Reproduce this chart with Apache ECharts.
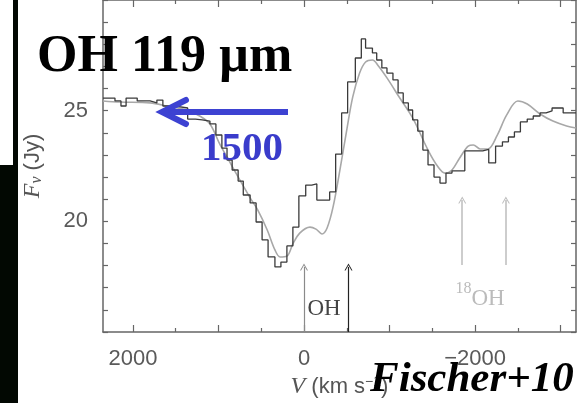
<!DOCTYPE html>
<html>
<head>
<meta charset="utf-8">
<script src="https://cdn.jsdelivr.net/npm/echarts@6.0.0/dist/echarts.min.js"></script>
<style>
html, body { margin: 0; padding: 0; background: #fff; }
#chart { width: 577px; height: 403px; }
</style>
</head>
<body>
<div id="chart"></div>
<script>
// observed spectrum: velocity bin edges (km/s) and flux per bin (Jy)
var histEdges = [2350, 2210, 2140, 2080, 1950, 1800, 1720, 1650, 1500, 1360,
    1270, 1190, 1100, 1030, 960, 900, 840, 770, 710, 630,
    560, 490, 420, 340, 270, 200, 130, 60, -20, -90,
    -150, -300, -370, -440, -510, -600, -670, -720, -800, -850,
    -910, -970, -1040, -1100, -1160, -1220, -1270, -1330, -1390, -1450,
    -1520, -1590, -1660, -1730, -1880, -2090, -2160, -2240, -2320, -2390,
    -2460, -2530, -2610, -2680, -2760, -2830, -2900, -3030, -3180];
var histFlux = [25.57, 25.44, 25.21, 25.57, 25.44, 25.35, 25.48, 25.21, 25.12, 24.62,
    24.58, 24.53, 24.40, 23.90, 23.31, 22.77, 22.32, 21.82, 21.19, 20.83,
    19.97, 19.16, 18.39, 17.94, 18.16, 18.89, 19.74, 21.15, 21.64, 21.69,
    20.96, 21.33, 23.04, 24.90, 26.30, 27.38, 28.24, 27.83, 27.61, 27.29,
    26.93, 26.70, 26.39, 25.80, 25.35, 25.03, 24.58, 24.08, 23.22, 22.55,
    22.00, 21.73, 22.18, 22.28, 23.18, 23.25, 22.64, 23.40, 23.59, 23.81,
    24.04, 24.49, 24.62, 24.76, 24.90, 24.99, 25.12, 24.90];

// model fit (grey curve)
var modelV = [2350, 2150, 1800, 1600, 1370, 1220, 1100, 980, 900, 830,
    630, 540, 430, 340, 280, 200, 130, 50, -70, -140,
    -210, -270, -340, -420, -500, -570, -650, -720, -800, -870,
    -970, -1120, -1270, -1450, -1560, -1650, -1730, -1820, -1920, -1980,
    -2060, -2150, -2260, -2370, -2500, -2610, -2760, -2910, -3070, -3180];
var modelF = [25.44, 25.39, 25.35, 25.21, 25.03, 24.76, 24.40, 23.45, 22.91, 22.41,
    21.06, 20.51, 19.61, 18.71, 18.39, 18.43, 18.98, 19.47, 19.74, 19.65,
    19.43, 19.70, 20.65, 22.32, 24.13, 25.62, 26.70, 27.20, 27.29, 27.02,
    26.48, 25.57, 24.67, 23.22, 22.50, 22.18, 22.32, 22.86, 23.40, 23.45,
    23.27, 23.27, 23.90, 24.81, 25.44, 25.30, 24.85, 24.53, 24.31, 24.22];

// line markers
var ohArrowV = [0, -520];
var o18ArrowV = [-1850, -2360];

// axis ticks and labels
var xMajorTicks = [2000, 1000, 0, -1000, -2000, -3000];
var xMinorTicks = [1500, 500, -500, -1500, -2500];
var xLabels = [2000, 0, -2000];
var yLabels = [20, 25];

var histPts = [];
for (var i = 0; i < histFlux.length; i++) {
    histPts.push([histEdges[i], histFlux[i]]);
    histPts.push([histEdges[i + 1], histFlux[i]]);
}
var modelPts = modelV.map(function (v, i) { return [v, modelF[i]]; });

var frame = '#666';
var tickFont = { color: '#5a5a5a', fontSize: 22, fontFamily: 'Liberation Sans' };
var chevron = 'path://M0,12 L6,0 L12,12 L10.4,12 L6,3.2 L1.6,12 Z';

function xAx(pos, ticks, len, main) {
    return {
        type: 'value',
        position: pos,
        min: -3180,
        max: 2350,
        inverse: true,
        axisLine: { show: main, onZero: false, lineStyle: { color: frame, width: 1.5 } },
        axisTick: { show: true, inside: true, length: len, customValues: ticks,
            lineStyle: { color: frame, width: 1.2 } },
        axisLabel: (main && pos === 'bottom') ? {
            customValues: xLabels,
            margin: 16,
            color: tickFont.color, fontSize: tickFont.fontSize, fontFamily: tickFont.fontFamily,
            formatter: function (v) { return v < 0 ? '\u2212' + (-v) : String(v); }
        } : { show: false },
        name: (main && pos === 'bottom') ? '{it|V} (km s{sup|\u22121})' : '',
        nameLocation: 'middle',
        nameGap: 40,
        nameTextStyle: {
            color: '#555', fontSize: 22, fontFamily: 'Liberation Sans',
            rich: {
                it: { fontStyle: 'italic', fontFamily: 'Liberation Serif', fontSize: 24, color: '#555' },
                sup: { fontSize: 14, verticalAlign: 'top', color: '#555' }
            }
        },
        splitLine: { show: false }
    };
}

function yAx(pos) {
    return {
        type: 'value',
        position: pos,
        min: 15,
        max: 30,
        interval: 1,
        axisLine: { show: true, onZero: false, lineStyle: { color: frame, width: 1.5 } },
        axisTick: { show: true, inside: true, length: 5, lineStyle: { color: frame, width: 1.2 } },
        axisLabel: pos === 'left' ? {
            customValues: yLabels,
            margin: 15,
            color: tickFont.color, fontSize: tickFont.fontSize, fontFamily: tickFont.fontFamily
        } : { show: false },
        name: pos === 'left' ? '{it|F}{sub|\u03bd} (Jy)' : '',
        nameLocation: 'middle',
        nameGap: 58,
        nameTextStyle: {
            color: '#555', fontSize: 22, fontFamily: 'Liberation Sans',
            rich: {
                it: { fontStyle: 'italic', fontFamily: 'Liberation Serif', fontSize: 24, color: '#555' },
                sub: { fontStyle: 'italic', fontFamily: 'Liberation Serif', fontSize: 16,
                    verticalAlign: 'bottom', color: '#555' }
            }
        },
        splitLine: { show: false }
    };
}

var arrowLines = [];
ohArrowV.forEach(function (v, i) {
    arrowLines.push([
        { coord: [v, 15], lineStyle: { color: i === 0 ? '#8a8a8a' : '#222', width: 1.2, type: 'solid' } },
        { coord: [v, 17.94] }
    ]);
});
o18ArrowV.forEach(function (v) {
    arrowLines.push([
        { coord: [v, 18.03], lineStyle: { color: '#bdbdbd', width: 1.5, type: 'solid' } },
        { coord: [v, 20.96] }
    ]);
});

var option = {
    animation: false,
    backgroundColor: '#fff',
    grid: { left: 103, right: 1, top: 0, bottom: 71, outerBoundsMode: 'none' },
    xAxis: [
        xAx('bottom', xMajorTicks, 7, true),
        xAx('top', xMajorTicks, 7, true),
        xAx('bottom', xMinorTicks, 4, false),
        xAx('top', xMinorTicks, 4, false)
    ],
    yAxis: [yAx('left'), yAx('right')],
    series: [
        {
            name: 'model',
            type: 'line',
            data: modelPts,
            smooth: 0.35,
            showSymbol: false,
            silent: true,
            z: 2,
            lineStyle: { color: '#a8a8a8', width: 1.6 },
            markLine: {
                silent: true,
                symbol: ['none', chevron],
                symbolSize: [8, 7],
                lineStyle: { type: 'solid' },
                label: { show: false },
                data: arrowLines
            },
            markPoint: {
                silent: true,
                symbol: 'circle',
                symbolSize: 0,
                data: [
                    { coord: [-234, 16.04], label: { show: true, position: 'inside', formatter: 'OH',
                        color: '#444', fontSize: 23, fontFamily: 'Liberation Serif' } },
                    { coord: [-2058, 16.63], label: { show: true, position: 'inside',
                        formatter: '{s|18}{n|OH}',
                        rich: {
                            s: { fontSize: 16, fontFamily: 'Liberation Serif', color: '#bbb', verticalAlign: 'top' },
                            n: { fontSize: 23, fontFamily: 'Liberation Serif', color: '#bbb', verticalAlign: 'bottom', lineHeight: 30 }
                        } } }
                ]
            }
        },
        {
            name: 'data',
            type: 'line',
            data: histPts,
            showSymbol: false,
            silent: true,
            z: 3,
            lineStyle: { color: '#3a3a3a', width: 1.3 }
        }
    ],
    graphic: [
        { type: 'rect', z: 100, shape: { x: 0, y: 0, width: 18, height: 403 }, style: { fill: '#020802' } },
        { type: 'rect', z: 101, shape: { x: 0, y: 0, width: 13, height: 165 }, style: { fill: '#fff' } },
        { type: 'text', z: 101, x: 37, y: 58,
            style: { text: 'OH 119 \u00b5m', font: 'bold 52px "Liberation Serif"', fill: '#000', verticalAlign: 'middle' } },
        { type: 'polyline', z: 101, shape: { points: [[288, 112], [166, 112]] },
            style: { stroke: '#3d42d2', lineWidth: 6, fill: null } },
        { type: 'polyline', z: 101, shape: { points: [[186, 100], [162, 112], [186, 124]] },
            style: { stroke: '#3d42d2', lineWidth: 6, lineCap: 'round', lineJoin: 'miter', fill: null } },
        { type: 'text', z: 101, x: 201, y: 149,
            style: { text: '1500', font: 'bold 41px "Liberation Serif"', fill: '#3a3ccb', verticalAlign: 'middle' } },
        { type: 'text', z: 101, x: 370, y: 380,
            style: { text: 'Fischer+10', font: 'italic bold 43px "Liberation Serif"', fill: '#000', verticalAlign: 'middle' } }
    ]
};

var chart = echarts.init(document.getElementById('chart'));
chart.setOption(option);
</script>
</body>
</html>
